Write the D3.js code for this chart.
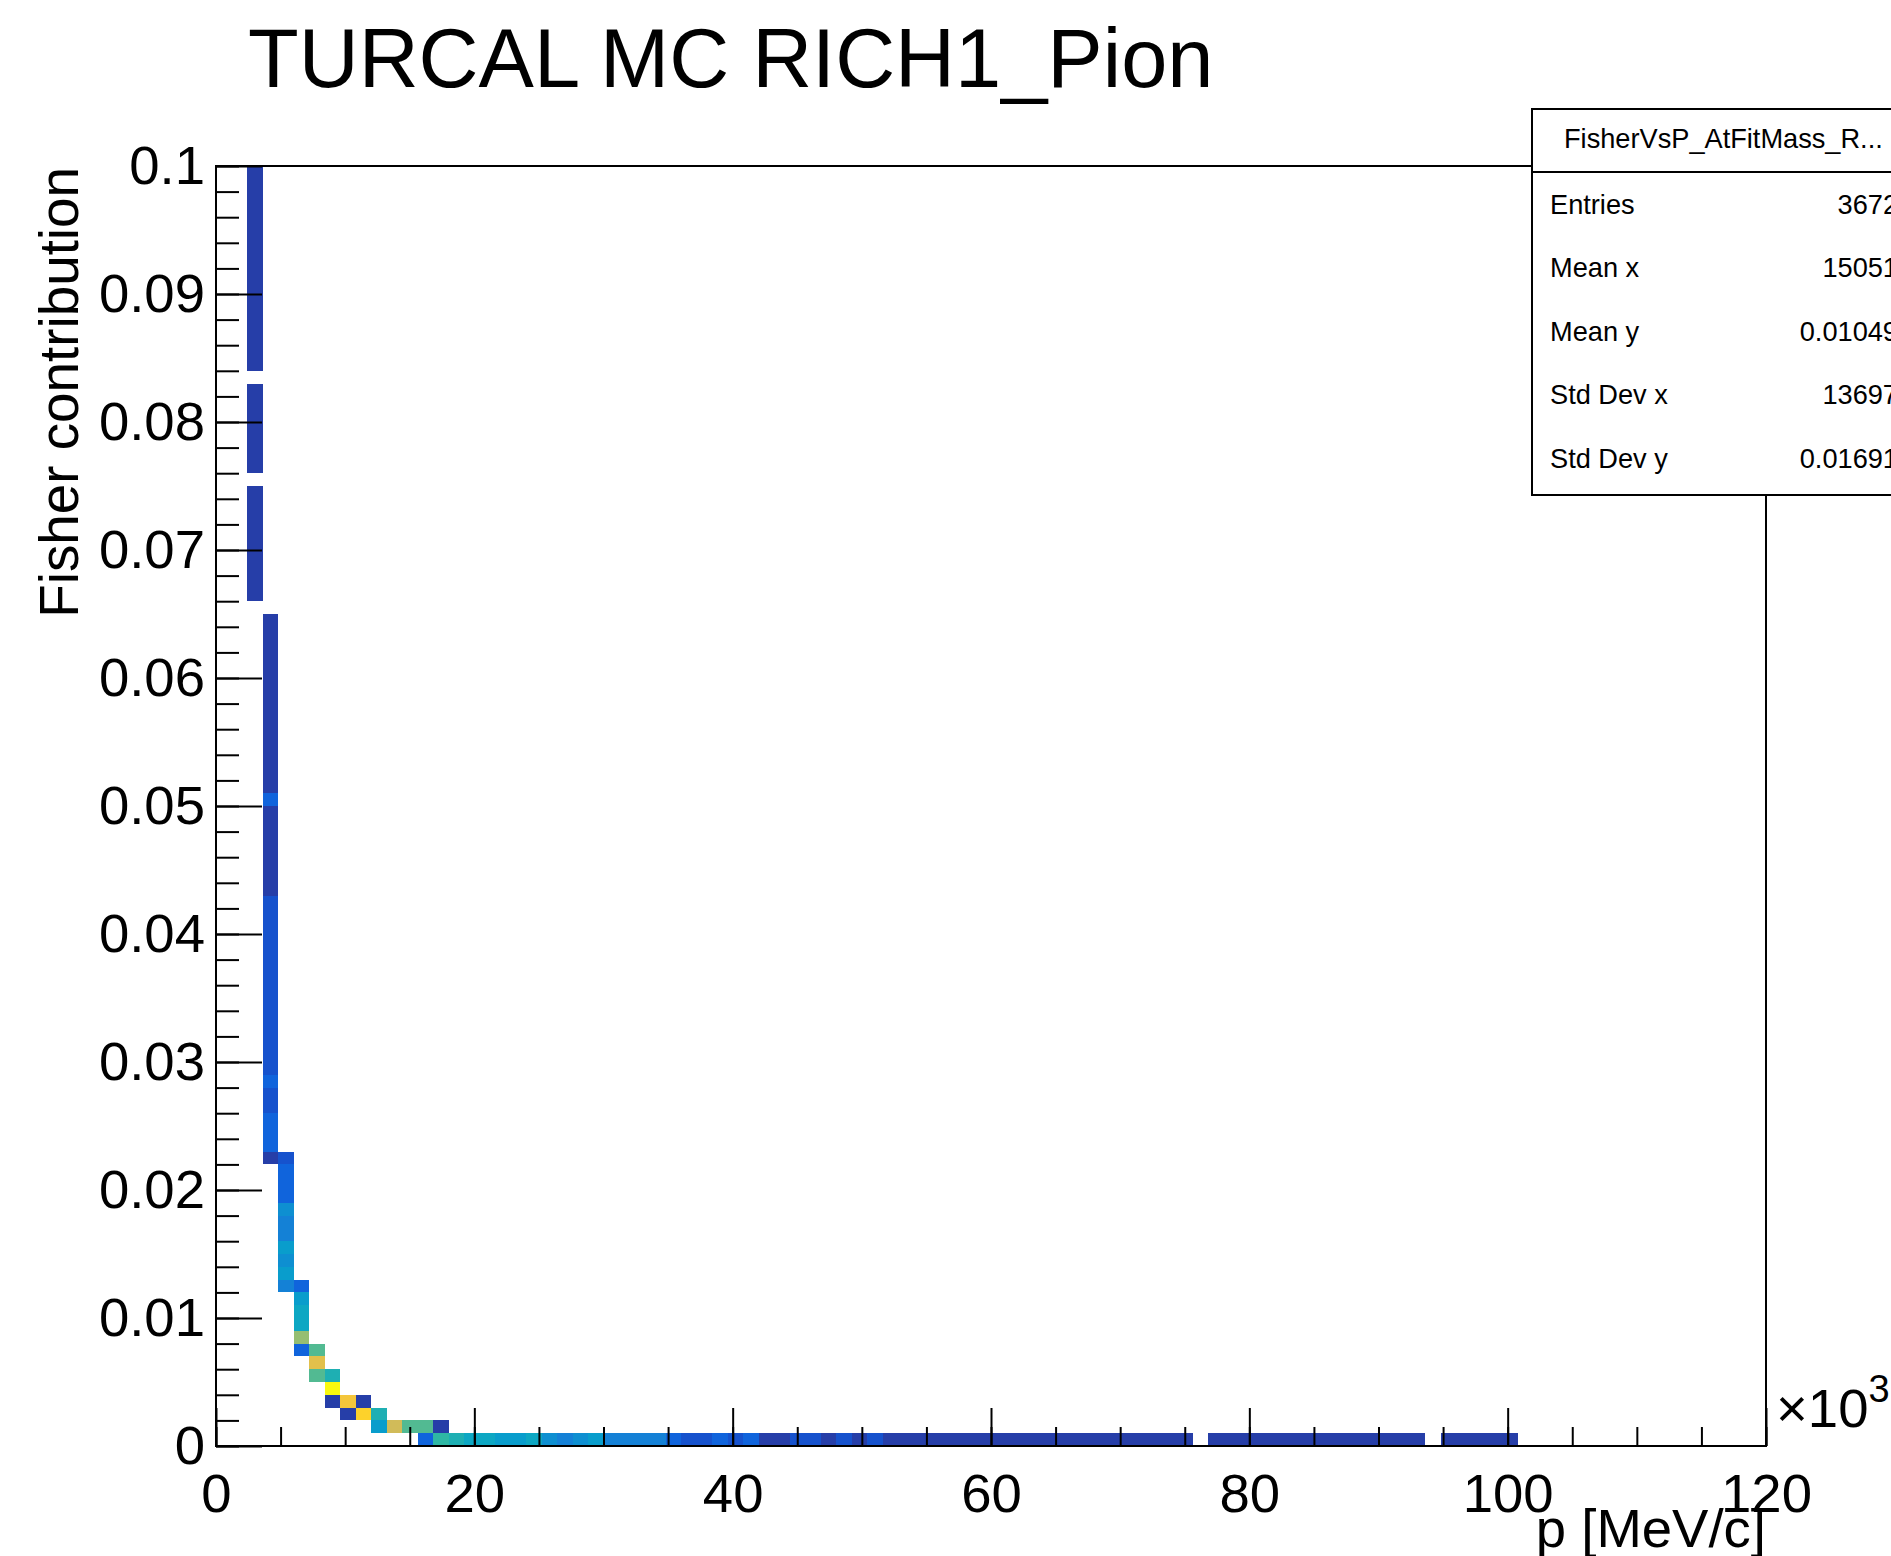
<!DOCTYPE html>
<html>
<head>
<meta charset="utf-8">
<script src="https://cdn.jsdelivr.net/npm/d3@7"></script>
<style>
  html, body { margin: 0; padding: 0; background: #fff; overflow: hidden; }
  svg { display: block; }
  text { font-family: "Liberation Sans", Arial, Helvetica, sans-serif; fill: #000; }
</style>
</head>
<body>
<svg id="chart" width="1891" height="1556"></svg>
<script>
// ---- Histogram definition: p in units of 10^3 MeV/c, Fisher contribution on y ----
const xRange = [0, 120];
const nBinsX = 100;
const yRange = [0, 0.1];
const nBinsY = 100;

// Steep low-p columns: x bin index, first filled y bin, then contents going up in y
const columnBins   = [2, 3, 4, 5, 6, 7, 8, 9, 10, 11, 12, 13, 14];
const columnFirstY = [66, 22, 12, 7, 5, 3, 2, 2, 1, 1, 1, 0, 0];
const columnCounts = [
  [3, 2, 4, 3, 2, 3, 5, 2, 3, 0, 2, 4, 3, 2, 3, 2, 4, 0,
   3, 2, 4, 3, 5, 3, 2, 4, 3, 2, 3, 4, 2, 5, 3, 6],
  [6, 19, 22, 18, 14, 12, 18, 12, 15, 11, 13, 10, 14, 12, 9, 11, 13, 10, 12, 9, 11,
   7, 6, 8, 5, 7, 6, 8, 18, 7, 5, 6, 8, 4, 6, 5, 7, 3, 5, 4, 6, 3, 4],
  [38, 54, 47, 52, 36, 40, 45, 24, 21, 19, 13],
  [20, 105, 63, 61, 56, 22],
  [88, 131, 90],
  [6, 170, 72],
  [5, 140],
  [148, 4],
  [53, 70],
  [122],
  [87],
  [21, 91],
  [80, 7]
];

// Lowest y bin (Fisher contribution < 0.001) from x bin 15 onward
const bottomRowFirstX = 15;
const bottomRowCounts = [
  74, 64, 62, 55, 57, 60, 46, 39, 44, 52, 41, 37, 39, 35, 23, 15, 13, 18, 14, 19,
  8, 7, 10, 12, 8, 9, 7, 11,
  8, 6, 7, 5, 8, 6, 4, 7, 5, 6, 4, 5, 3, 6, 4, 3, 5, 2, 4, 3,
  0,
  3, 2, 4, 2, 3, 1, 2, 3, 2, 1, 2, 3, 1, 2,
  0,
  1, 2, 1, 1, 2
];

const xTicks = [0, 20, 40, 60, 80, 100, 120];
const yTicks = [0, 0.01, 0.02, 0.03, 0.04, 0.05, 0.06, 0.07, 0.08, 0.09, 0.1];

const titleText = "TURCAL MC RICH1_Pion";
const xTitle = "p [MeV/c]";
const yTitle = "Fisher contribution";

const statsName = "FisherVsP_AtFitMass_R...";
const statsLabels = ["Entries", "Mean x", "Mean y", "Std Dev x", "Std Dev y"];
const statsValues = ["3672", "15051", "0.01049", "13697", "0.01691"];

// ---- Bird colour palette (9 stops, 255 colours, 20 contour levels) ----
const birdStops = [0.0, 0.125, 0.25, 0.375, 0.5, 0.625, 0.75, 0.875, 1.0];
const birdR = [0.2082, 0.0592, 0.0780, 0.0232, 0.1802, 0.5301, 0.8186, 0.9956, 0.9764];
const birdG = [0.1664, 0.3599, 0.5041, 0.6419, 0.7178, 0.7492, 0.7328, 0.7862, 0.9832];
const birdB = [0.5293, 0.8684, 0.8385, 0.7914, 0.6425, 0.4662, 0.3499, 0.1968, 0.0539];
const nPaletteColors = 255;
const nContours = 20;

function gradientTable() {
  const table = [];
  for (let g = 1; g < birdStops.length; g++) {
    const n = Math.floor(nPaletteColors * birdStops[g]) - Math.floor(nPaletteColors * birdStops[g - 1]);
    for (let c = 0; c < n; c++) {
      const f = c / n;
      table.push(d3.rgb(
        255 * (birdR[g - 1] + (birdR[g] - birdR[g - 1]) * f),
        255 * (birdG[g - 1] + (birdG[g] - birdG[g - 1]) * f),
        255 * (birdB[g - 1] + (birdB[g] - birdB[g - 1]) * f)
      ).formatHex());
    }
  }
  return table;
}
const palette = gradientTable();
const levelColors = d3.range(nContours).map(k =>
  palette[Math.floor((k + 0.99) * nPaletteColors / nContours)]);

// ---- Collect non-empty cells ----
const cells = [];
columnBins.forEach((ix, i) => {
  columnCounts[i].forEach((n, j) => {
    if (n > 0) cells.push({ ix, iy: columnFirstY[i] + j, n });
  });
});
bottomRowCounts.forEach((n, j) => {
  if (n > 0) cells.push({ ix: bottomRowFirstX + j, iy: 0, n });
});

// ---- Layout ----
const svg = d3.select("#chart");
const frame = { left: 216, right: 1766, top: 166, bottom: 1446 };
const labelSize = 54.5;

const x = d3.scaleLinear().domain(xRange).range([frame.left, frame.right]);
const y = d3.scaleLinear().domain(yRange).range([frame.bottom, frame.top]);
const binW = (xRange[1] - xRange[0]) / nBinsX;
const binH = (yRange[1] - yRange[0]) / nBinsY;

const zMax = d3.max(cells, d => d.n);
const color = d3.scaleQuantize().domain([0, zMax]).range(levelColors);

svg.append("rect").attr("width", 1891).attr("height", 1556).attr("fill", "#fff");

// Cells
svg.append("g")
  .attr("shape-rendering", "crispEdges")
  .selectAll("rect")
  .data(cells)
  .join("rect")
  .attr("x", d => x(xRange[0] + d.ix * binW))
  .attr("width", d => x(xRange[0] + (d.ix + 1) * binW) - x(xRange[0] + d.ix * binW))
  .attr("y", d => y(yRange[0] + (d.iy + 1) * binH))
  .attr("height", d => y(yRange[0] + d.iy * binH) - y(yRange[0] + (d.iy + 1) * binH))
  .attr("fill", d => color(d.n));

// ---- Axes (ticks point into the frame) ----
function styleAxis(g) {
  g.select(".domain").remove();
  g.attr("font-family", null).attr("font-size", null);
  g.selectAll(".tick line").attr("stroke", "#000").attr("stroke-width", 2);
  g.selectAll(".tick text").attr("fill", "#000").style("font-size", labelSize + "px");
}

const yFmt = d => d === 0 ? "0" : String(+d.toFixed(3));

svg.append("g")
  .attr("transform", `translate(0,${frame.bottom})`)
  .call(d3.axisBottom(x).tickValues(x.ticks(24)).tickSizeInner(-19).tickSizeOuter(0).tickFormat(""))
  .call(styleAxis);
svg.append("g")
  .attr("transform", `translate(0,${frame.bottom})`)
  .call(d3.axisBottom(x).tickValues(xTicks).tickSizeInner(-38).tickSizeOuter(0).tickPadding(27).tickFormat(d3.format("d")))
  .call(styleAxis);

svg.append("g")
  .attr("transform", `translate(${frame.left},0)`)
  .call(d3.axisLeft(y).tickValues(y.ticks(50)).tickSizeInner(-23).tickSizeOuter(0).tickFormat(""))
  .call(styleAxis);
svg.append("g")
  .attr("transform", `translate(${frame.left},0)`)
  .call(d3.axisLeft(y).tickValues(yTicks).tickSizeInner(-46).tickSizeOuter(0).tickPadding(11).tickFormat(yFmt))
  .call(styleAxis);

// Frame
svg.append("rect")
  .attr("x", frame.left).attr("y", frame.top)
  .attr("width", frame.right - frame.left).attr("height", frame.bottom - frame.top)
  .attr("fill", "none").attr("stroke", "#000").attr("stroke-width", 2);

// ---- Titles ----
svg.append("text")
  .attr("x", 248).attr("y", 87)
  .style("font-size", "83px")
  .text(titleText);

svg.append("text")
  .attr("transform", "translate(78,167) rotate(-90)")
  .attr("text-anchor", "end")
  .style("font-size", "54.8px")
  .text(yTitle);

svg.append("text")
  .attr("x", frame.right).attr("y", 1547)
  .attr("text-anchor", "end")
  .style("font-size", labelSize + "px")
  .text(xTitle);

const mult = svg.append("text").attr("x", 1776).attr("y", 1427).style("font-size", labelSize + "px");
mult.append("tspan").text("\u00d710");
mult.append("tspan").attr("dy", -25).style("font-size", "38px").text("3");

// ---- Statistics box ----
const stats = { left: 1532, top: 109, right: 1917, bottom: 495, header: 172 };
const statsSize = "27.2px";
const sg = svg.append("g");
sg.append("rect")
  .attr("x", stats.left).attr("y", stats.top)
  .attr("width", stats.right - stats.left).attr("height", stats.bottom - stats.top)
  .attr("fill", "#fff").attr("stroke", "#000").attr("stroke-width", 2);
sg.append("line")
  .attr("x1", stats.left).attr("x2", stats.right)
  .attr("y1", stats.header).attr("y2", stats.header)
  .attr("stroke", "#000").attr("stroke-width", 2);
sg.append("text")
  .attr("x", 1564).attr("y", 148)
  .style("font-size", statsSize)
  .text(statsName);

const rowY = d3.scalePoint().domain(statsLabels).range([213.5, 467.5]);
sg.selectAll("text.lab")
  .data(statsLabels)
  .join("text")
  .attr("class", "lab")
  .attr("x", 1550)
  .attr("y", d => rowY(d))
  .style("font-size", statsSize)
  .text(d => d);
sg.selectAll("text.val")
  .data(statsValues)
  .join("text")
  .attr("class", "val")
  .attr("x", 1898)
  .attr("y", (d, i) => rowY(statsLabels[i]))
  .attr("text-anchor", "end")
  .style("font-size", statsSize)
  .text(d => d);
</script>
</body>
</html>
